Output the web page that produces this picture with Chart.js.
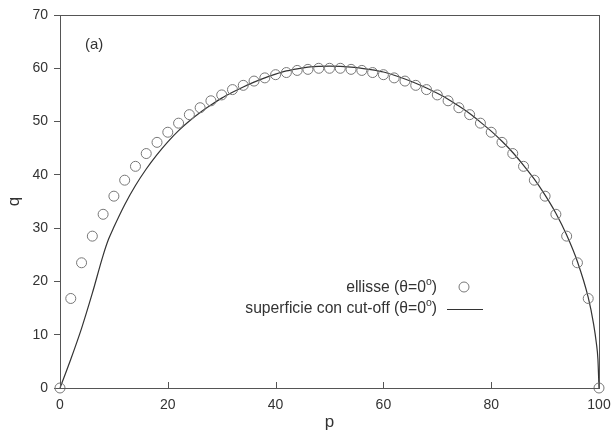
<!DOCTYPE html>
<html>
<head>
<meta charset="utf-8">
<script src="https://cdn.jsdelivr.net/npm/chart.js@4.4.1/dist/chart.umd.min.js"></script>
<style>
  html, body { margin:0; padding:0; background:#fff; }
  #wrap { width:611px; height:437px; position:relative; }
</style>
</head>
<body>
<div id="wrap"><canvas id="c"></canvas></div>
<script>
// values
const ellisseP = [0,2,4,6,8,10,12,14,16,18,20,22,24,26,28,30,32,34,36,38,40,42,44,46,48,50,
                  52,54,56,58,60,62,64,66,68,70,72,74,76,78,80,82,84,86,88,90,92,94,96,98,100];
const ellisseQ = [0,16.8,23.5,28.5,32.6,36.0,39.0,41.6,44.0,46.1,48.0,49.7,51.3,52.6,53.9,55.0,56.0,56.8,57.6,58.2,58.8,59.2,59.6,59.8,60.0,60.0,
                  60.0,59.8,59.6,59.2,58.8,58.2,57.6,56.8,56.0,55.0,53.9,52.6,51.3,49.7,48.0,46.1,44.0,41.6,39.0,36.0,32.6,28.5,23.5,16.8,0];

const cutoffP = [0,2,4,6,8,9,10,12,14,16,18,20,22,24,26,28,30,32,34,36,38,40,42,44,46,48,50,
                 52,54,56,58,60,62,64,66,68,70,72,74,76,78,80,82,84,86,88,90,92,94,96,98,99,99.5,99.8,100];
const cutoffQ = [0,5.4,11.2,17.8,24.9,27.9,30.2,34.4,38.0,41.1,43.8,46.2,48.3,50.1,51.7,53.1,54.4,55.5,56.5,57.4,58.2,58.9,59.5,59.9,60.2,60.35,60.4,
                 60.35,60.2,60.0,59.7,59.3,58.7,58.0,57.2,56.3,55.3,54.2,52.9,51.5,49.9,48.2,46.3,44.2,41.8,39.2,36.2,32.8,28.7,23.7,17.0,12.0,8.5,5.4,0];

const xTicks = [0,20,40,60,80,100];
const yTicks = [0,10,20,30,40,50,60,70];

const FONT = "'Liberation Sans', Arial, Helvetica, sans-serif";
const AXIS = '#555';
const TXT = '#333';

const frame = {
  id: 'frame',
  afterDraw(chart){
    const { ctx, chartArea: a, scales } = chart;
    ctx.save();
    ctx.strokeStyle = AXIS;
    ctx.lineWidth = 1;
    ctx.strokeRect(a.left + 0.5, a.top + 0.5, a.right - a.left, a.bottom - a.top);
    // inward ticks on the p axis
    xTicks.forEach(v => {
      const x = Math.round(scales.x.getPixelForValue(v)) + 0.5;
      ctx.beginPath();
      ctx.moveTo(x, a.bottom);
      ctx.lineTo(x, a.bottom - 6);
      ctx.stroke();
    });
    // panel tag
    ctx.fillStyle = TXT;
    ctx.font = `15px ${FONT}`;
    ctx.textAlign = 'left';
    ctx.textBaseline = 'middle';
    ctx.fillText('(a)', 85, 45);
    // legend
    const rows = [
      { label: 'ellisse (θ=0', y: 288, kind: 'circle' },
      { label: 'superficie con cut-off (θ=0', y: 309, kind: 'line' },
    ];
    const big = `15.7px ${FONT}`, small = `10.5px ${FONT}`;
    rows.forEach(r => {
      ctx.textAlign = 'right';
      ctx.font = big;
      const wTail = ctx.measureText(')').width;
      ctx.font = small;
      const wSup = ctx.measureText('o').width;
      const right = 437;
      ctx.font = big;
      ctx.fillText(')', right, r.y);
      ctx.font = small;
      ctx.fillText('o', right - wTail, r.y - 6);
      ctx.font = big;
      ctx.fillText(r.label, right - wTail - wSup, r.y);
      if (r.kind === 'circle') {
        ctx.strokeStyle = '#777';
        ctx.beginPath();
        ctx.arc(464, r.y - 1, 5, 0, Math.PI * 2);
        ctx.stroke();
      } else {
        ctx.strokeStyle = '#333';
        ctx.beginPath();
        ctx.moveTo(447, r.y + 0.5);
        ctx.lineTo(483, r.y + 0.5);
        ctx.stroke();
      }
    });
    ctx.restore();
  }
};

new Chart(document.getElementById('c'), {
  type: 'scatter',
  data: {
    datasets: [
      {
        label: 'ellisse',
        data: ellisseP.map((p, i) => ({ x: p, y: ellisseQ[i] })),
        pointStyle: 'circle',
        pointRadius: 5,
        pointBorderWidth: 1,
        pointBorderColor: '#777',
        pointBackgroundColor: 'rgba(0,0,0,0)',
        showLine: false,
        clip: false,
      },
      {
        label: 'superficie con cut-off',
        data: cutoffP.map((p, i) => ({ x: p, y: cutoffQ[i] })),
        showLine: true,
        pointRadius: 0,
        borderColor: '#333',
        borderWidth: 1.2,
        cubicInterpolationMode: 'monotone',
        clip: false,
      },
    ],
  },
  options: {
    responsive: true,
    maintainAspectRatio: false,
    animation: false,
    events: [],
    layout: { padding: { top: 15, right: 12, left: 0, bottom: 0 } },
    plugins: { legend: { display: false }, tooltip: { enabled: false } },
    scales: {
      x: {
        type: 'linear',
        min: 0, max: 100,
        afterBuildTicks: s => { s.ticks = xTicks.map(v => ({ value: v })); },
        afterFit: s => { s.height = 49; s.paddingLeft = 0; s.paddingRight = 0; },
        grid: { drawOnChartArea: false, drawTicks: false },
        border: { display: true, color: AXIS },
        ticks: { color: TXT, padding: 9, font: { family: FONT, size: 14 } },
        title: { display: true, text: 'p', color: TXT, padding: { top: 2 }, font: { family: FONT, size: 17 } },
      },
      y: {
        type: 'linear',
        min: 0, max: 70,
        afterBuildTicks: s => { s.ticks = yTicks.map(v => ({ value: v })); },
        afterFit: s => { s.width = 60; s.paddingTop = 0; s.paddingBottom = 0; },
        grid: { drawOnChartArea: false, drawTicks: true, tickLength: 6, tickColor: AXIS },
        border: { display: true, color: AXIS },
        ticks: { color: TXT, padding: 6, font: { family: FONT, size: 14 } },
        title: { display: true, text: 'q', color: TXT, padding: { bottom: 0 }, font: { family: FONT, size: 17 } },
      },
    },
  },
  plugins: [frame],
});
</script>
</body>
</html>
